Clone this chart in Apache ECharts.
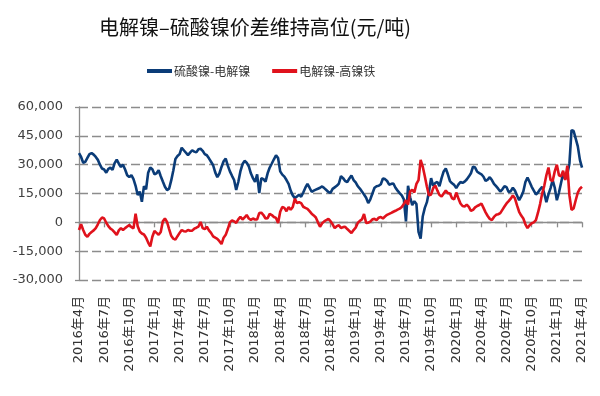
<!DOCTYPE html>
<html>
<head>
<meta charset="utf-8">
<script src="https://cdn.jsdelivr.net/npm/echarts@6/dist/echarts.min.js"></script>
<style>
html,body{margin:0;padding:0;background:#fff;}
#chart{width:600px;height:396px;}
</style>
</head>
<body>
<div id="chart"></div>
<script>
const titleText = '电解镍–硫酸镍价差维持高位(元/吨)';
const seriesNames = ['硫酸镍-电解镍', '电解镍-高镍铁'];
const tickLabels = ['2016年4月','2016年7月','2016年10月','2017年1月','2017年4月','2017年7月','2017年10月',
  '2018年1月','2018年4月','2018年7月','2018年10月','2019年1月','2019年4月','2019年7月','2019年10月',
  '2020年1月','2020年4月','2020年7月','2020年10月','2021年1月','2021年4月'];
const yTicks = { min: -30000, max: 60000, interval: 15000 };

// 硫酸镍-电解镍 (weekly readings, Apr 2016 – Apr 2021)
const sulfateMinusCathode = [
36000,34000,31000,31500,33500,35500,36000,35200,34000,32500,
30000,28000,27500,25800,27800,28400,27300,30800,32600,30500,
28800,30000,27500,24500,23500,24600,22500,19000,14200,16000,
10700,18800,17200,25800,28500,27600,25000,25500,27100,24000,
21200,18500,16800,17500,21800,27000,33000,34500,35500,38800,
37500,36200,35000,36300,37500,36800,36400,38000,38300,37200,
35500,34900,33300,31500,29700,26000,23500,25400,28800,31800,
33200,29500,26500,24200,22000,16800,21000,26500,30200,32000,
31000,29200,25500,23000,21000,25000,15200,23000,22500,21200,
25500,28500,30600,32800,34900,33400,26500,24800,23800,22000,
20000,16500,14000,12600,13500,14400,13300,15500,18000,20000,
18000,15900,16500,17000,17500,18000,18700,17800,16800,15800,
15300,17400,18200,19000,20200,24000,23000,21500,21000,22800,
24400,22000,20800,18800,17600,16000,14500,12800,10000,12000,
15000,18000,18800,19000,19800,22800,22500,21500,19600,20000,
20200,18000,16500,15200,14000,12000,500,19000,13000,9000,
11000,9500,-5000,-8500,3000,7500,10500,16000,23000,19000,
20500,21000,18800,23000,26500,28000,25000,21500,20300,19500,
17800,19600,21000,20500,21200,22300,23800,25500,29000,28500,
26300,25600,25000,23700,21500,22200,23500,22000,20000,18800,
17500,16000,17200,18800,18300,15800,16200,18000,16500,14000,
11500,13500,16000,21000,23300,21000,18500,16500,14500,15500,
17200,18500,15000,10500,14500,17800,22000,18000,11500,15500,
20500,25400,22500,25000,30500,48000,47500,43500,39500,32500,
28500
];

// 电解镍-高镍铁 (weekly readings, Apr 2016 – Apr 2021)
const cathodeMinusNPI = [
-4000,-1000,-4000,-6500,-7500,-6000,-5000,-4200,-3000,-1000,
1200,2500,2000,-200,-2000,-3300,-4000,-5200,-6600,-4200,
-3000,-4000,-3000,-2200,-1400,-2500,-3100,4500,-2000,-4800,
-5800,-6300,-8000,-10500,-12500,-7500,-4500,-5500,-6500,-5000,
500,2000,200,-3500,-7000,-8500,-9000,-7200,-5500,-4000,
-4600,-4800,-4000,-4400,-4300,-3300,-2800,-2200,200,-3000,
-3500,-2300,-4200,-5500,-7300,-8000,-8600,-9800,-11300,-8000,
-6500,-3500,0,1000,500,-300,1500,2800,1500,2500,
3800,2000,1300,2000,1500,1500,4800,5000,3800,2000,
2200,4400,3800,2800,2300,-300,5500,8000,7500,5800,
8000,6500,8000,12300,10000,10500,10000,8100,7500,7000,
5800,4500,3600,2500,0,-2300,-500,500,1200,1800,
600,-1000,-3000,-2000,-1500,-3000,-2500,-2300,-3500,-4500,
-5600,-4000,-2800,-300,800,1500,4300,-300,-200,400,
1600,1800,1200,2400,2800,2000,3000,3900,4400,4900,
5500,6000,6600,7100,8000,9500,11500,9200,16000,17000,
15500,20000,22000,32500,29000,24000,18500,14000,14500,17800,
19200,16500,14200,13400,15000,16500,15200,15000,12500,12000,
15500,12500,9800,8500,8200,9200,8000,6000,6500,7800,
8500,9000,9800,7500,5200,3300,1800,1200,2800,3900,
4200,4800,6500,8200,9800,11000,12300,14000,12500,8800,
5500,3500,2000,-1000,-3000,-1500,-500,0,1200,5000,
9500,15000,19000,24500,28500,22000,21500,26500,30000,24500,
24000,26800,22000,29500,14000,6500,7200,11500,15500,17500,
18500
];

// Weekly category slots: 4 per month, a labelled tick every quarter (12 slots)
const slotsPerTick = 12;
const categories = [];
for (let t = 0; t < tickLabels.length; t++) {
  const span = t === tickLabels.length - 1 ? 1 : slotsPerTick;
  for (let k = 0; k < span; k++) {
    categories.push(k === 0 ? tickLabels[t] : tickLabels[t] + '#' + k);
  }
}

function thousands(v) {
  return String(v).replace(/\B(?=(\d{3})+(?!\d))/g, ',');
}

const grey = '#8c8c8c';
const chart = echarts.init(document.getElementById('chart'), null, { renderer: 'canvas' });
chart.setOption({
  animation: false,
  backgroundColor: '#ffffff',
  title: {
    text: titleText,
    left: 99,
    top: 15,
    padding: 0,
    textStyle: { fontFamily: 'Noto Sans CJK SC', fontSize: 20, fontWeight: 'normal', color: '#111111', lineHeight: 24 }
  },
  legend: {
    left: 147,
    top: 65,
    padding: 0,
    itemWidth: 25,
    itemHeight: 4,
    itemGap: 22,
    icon: 'rect',
    data: seriesNames,
    textStyle: { fontFamily: 'Noto Sans CJK SC', fontSize: 12, color: '#333333', padding: [0, 0, 0, -3] }
  },
  grid: { left: 79, right: 18, top: 107, bottom: 116, containLabel: false },
  xAxis: [
    {
      type: 'category',
      data: categories,
      boundaryGap: false,
      position: 'bottom',
      axisLine: { show: false, onZero: false },
      axisTick: { show: false },
      splitLine: { show: false },
      axisLabel: {
        interval: slotsPerTick - 1,
        rotate: 90,
        margin: 16,
        fontFamily: 'DejaVu Sans, Noto Sans CJK SC',
        fontSize: 13,
        color: '#333333',
        formatter: function (v, i) { return tickLabels[Math.round(i / slotsPerTick)]; }
      }
    },
    {
      type: 'category',
      data: categories,
      boundaryGap: false,
      position: 'bottom',
      axisLine: { show: true, onZero: true, lineStyle: { color: grey, width: 1.3 } },
      axisTick: { show: true, interval: slotsPerTick - 1, length: 5, lineStyle: { color: grey, width: 1.3 } },
      axisLabel: { show: false },
      splitLine: { show: false }
    }
  ],
  yAxis: {
    type: 'value',
    min: yTicks.min,
    max: yTicks.max,
    interval: yTicks.interval,
    axisLine: { show: true, lineStyle: { color: grey, width: 1.3 } },
    axisTick: { show: true, length: 4, lineStyle: { color: grey, width: 1.3 } },
    axisLabel: {
      margin: 16,
      fontFamily: 'DejaVu Sans',
      fontSize: 13,
      color: '#404040',
      formatter: thousands
    },
    splitLine: { show: true, lineStyle: { color: grey, width: 1.3, type: [9, 4] } }
  },
  series: [
    {
      name: seriesNames[0],
      type: 'line',
      data: sulfateMinusCathode,
      xAxisIndex: 0,
      showSymbol: false,
      smooth: false,
      color: '#0b3c78',
      lineStyle: { width: 2.6, color: '#0b3c78' }
    },
    {
      name: seriesNames[1],
      type: 'line',
      data: cathodeMinusNPI,
      xAxisIndex: 0,
      showSymbol: false,
      smooth: false,
      color: '#e0121c',
      lineStyle: { width: 2.6, color: '#e0121c' }
    }
  ]
});
</script>
</body>
</html>
